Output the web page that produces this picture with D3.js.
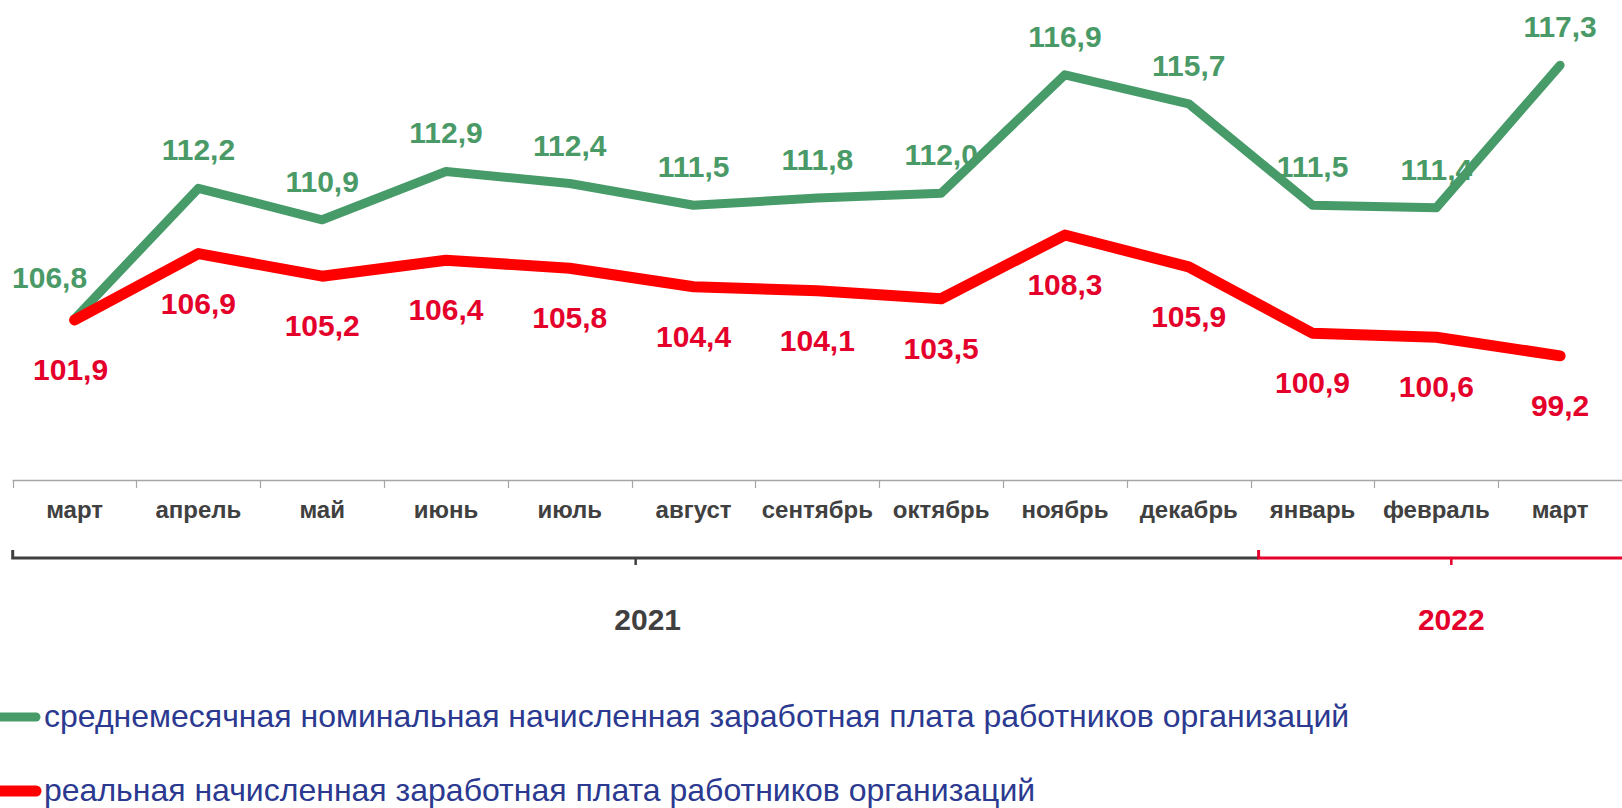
<!DOCTYPE html>
<html>
<head>
<meta charset="utf-8">
<script src="https://cdn.jsdelivr.net/npm/d3@7"></script>
<style>
  body { margin: 0; background: #fff; }
  svg { display: block; font-family: "Liberation Sans", Arial, sans-serif; }
</style>
</head>
<body>
<svg></svg>
<script>
// months of the period, march 2021 .. march 2022
const months = ["март", "апрель", "май", "июнь", "июль", "август", "сентябрь",
  "октябрь", "ноябрь", "декабрь", "январь", "февраль", "март"];
const nominal = [106.8, 112.2, 110.9, 112.9, 112.4, 111.5, 111.8, 112.0, 116.9, 115.7, 111.5, 111.4, 117.3];
const real = [101.9, 106.9, 105.2, 106.4, 105.8, 104.4, 104.1, 103.5, 108.3, 105.9, 100.9, 100.6, 99.2];
const years = ["2021", "2022"];
const yearFirst = [0, 10];
const yearLast = [9, 12];
const legendNames = [
  "среднемесячная номинальная начисленная заработная плата работников организаций",
  "реальная начисленная заработная плата работников организаций"
];

const w = 1622, h = 808;
const green = "#479b69", greenText = "#4a9a68";
const red = "#ff0000", redText = "#e4002b";
const grey = "#404040";

const svg = d3.select("svg").attr("width", w).attr("height", h);

const x = d3.scaleBand()
  .domain(d3.range(months.length))
  .range([12.7, w])
  .padding(0);
const cx = i => x(i) + x.bandwidth() / 2;

// two value axes (hidden), as in the original
const yNom = d3.scaleLinear().domain([100, 120]).range([483, 0]);
const yReal = d3.scaleLinear().domain([90, 126]).range([478, 0]);

const fmt = v => d3.format(".1f")(v).replace(".", ",");

// category axis
const axisY = 480;
const xAxis = d3.axisBottom(x)
  .tickSize(0)
  .tickPadding(21)
  .tickFormat(i => months[i]);
const axisG = svg.append("g")
  .attr("transform", `translate(0,${axisY})`)
  .call(xAxis);
axisG.select(".domain").remove();
axisG.selectAll("text")
  .attr("font-family", "Liberation Sans, Arial, sans-serif")
  .attr("font-size", 24)
  .attr("font-weight", "bold")
  .attr("fill", grey);

svg.append("line")
  .attr("x1", x.range()[0]).attr("x2", w)
  .attr("y1", axisY + 0.5).attr("y2", axisY + 0.5)
  .attr("stroke", "#a6a6a6").attr("stroke-width", 1.5);
const bounds = d3.range(months.length).map(i => x(i));
svg.selectAll(".btick")
  .data(bounds)
  .join("line")
  .attr("x1", d => Math.round(d) + 0.5).attr("x2", d => Math.round(d) + 0.5)
  .attr("y1", axisY).attr("y2", axisY + 8)
  .attr("stroke", "#a6a6a6").attr("stroke-width", 1.2);

// year brackets
const bracketY = 558;
const yearColors = [grey, redText];
years.forEach((yr, k) => {
  const x0 = k === 0 ? x(yearFirst[k]) : x(yearFirst[k]) + 8;
  const x1 = k === 0 ? x(yearLast[k]) + x.bandwidth() + 8 : x(yearLast[k]) + x.bandwidth() + 22;
  const col = yearColors[k];
  const mid = (x0 + x1) / 2;
  svg.append("path")
    .attr("d", `M${x0},${bracketY - 8}V${bracketY}H${Math.min(x1, w + 5)}`)
    .attr("fill", "none").attr("stroke", col).attr("stroke-width", 3);
  svg.append("line")
    .attr("x1", mid).attr("x2", mid)
    .attr("y1", bracketY).attr("y2", bracketY + 7)
    .attr("stroke", col).attr("stroke-width", 2.5);
  svg.append("text")
    .attr("x", mid + (k === 0 ? 12 : 0))
    .attr("y", 630)
    .attr("text-anchor", "middle")
    .attr("font-size", 30)
    .attr("font-weight", "bold")
    .attr("fill", col)
    .text(yr);
});

// lines
const lineNom = d3.line().x((d, i) => cx(i)).y(d => yNom(d));
const lineReal = d3.line().x((d, i) => cx(i)).y(d => yReal(d));

svg.append("path")
  .datum(nominal)
  .attr("d", lineNom)
  .attr("fill", "none")
  .attr("stroke", green)
  .attr("stroke-width", 9)
  .attr("stroke-linejoin", "round")
  .attr("stroke-linecap", "round");

svg.append("path")
  .datum(real)
  .attr("d", lineReal)
  .attr("fill", "none")
  .attr("stroke", red)
  .attr("stroke-width", 11)
  .attr("stroke-linejoin", "round")
  .attr("stroke-linecap", "round");

// data labels
svg.selectAll(".lblNom")
  .data(nominal)
  .join("text")
  .attr("x", (d, i) => cx(i) + (i === 0 ? -25 : 0))
  .attr("y", (d, i) => yNom(d) + (i === 0 ? -31 : -28))
  .attr("text-anchor", "middle")
  .attr("font-size", 30)
  .attr("font-weight", "bold")
  .attr("fill", greenText)
  .text(fmt);

svg.selectAll(".lblReal")
  .data(real)
  .join("text")
  .attr("x", (d, i) => cx(i) + (i === 0 ? -4 : 0))
  .attr("y", d => yReal(d) + 60)
  .attr("text-anchor", "middle")
  .attr("font-size", 30)
  .attr("font-weight", "bold")
  .attr("fill", redText)
  .text(fmt);

// legend
const legendColors = [green, red];
const legendWidths = [9, 11];
const legendY = [717, 791];
legendNames.forEach((name, k) => {
  svg.append("line")
    .attr("x1", 0).attr("x2", 36)
    .attr("y1", legendY[k]).attr("y2", legendY[k])
    .attr("stroke", legendColors[k])
    .attr("stroke-width", legendWidths[k])
    .attr("stroke-linecap", "round");
  svg.append("text")
    .attr("x", 44)
    .attr("y", legendY[k] + 10)
    .attr("font-size", 32)
    .attr("fill", "#2b3990")
    .text(name);
});
</script>
</body>
</html>
